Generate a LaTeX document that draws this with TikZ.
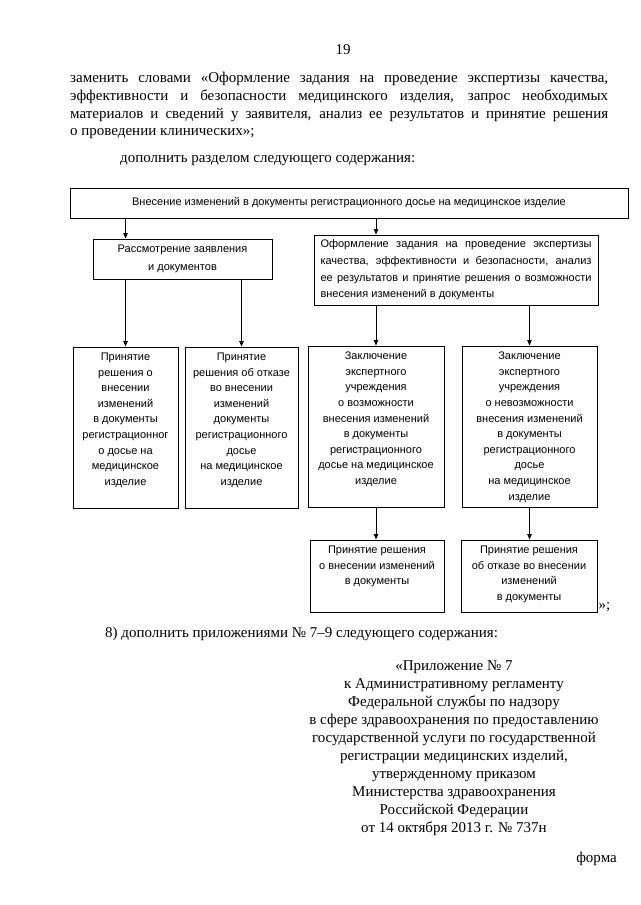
\documentclass[tikz,border=0pt]{standalone}
\usepackage{fontspec}
\setmainfont{Liberation Serif}
\newfontfamily\boxfont{Liberation Sans}
\usetikzlibrary{arrows.meta}

\newcommand{\celltext}[3]{\parbox[c][#2][t]{#1}{\vspace*{6pt}\centering #3}}

\tikzset{
  cell/.style={draw, line width=1pt, inner sep=0pt, font=\boxfont\fontsize{11}{15.6}\selectfont},
  arr/.style={-{Triangle[length=5.5pt,width=4.5pt]}, line width=0.8pt},
  body/.style={inner sep=0pt, font=\fontsize{15}{17.7}\selectfont},
}

\begin{document}
\begin{tikzpicture}[x=1pt,y=-1pt]
  \useasboundingbox (0,0) rectangle (640,905);

  \node[body] (page) at (343,50) {19};
  \node[body,anchor=north west,text width=538pt,align=justify] (para) at (70,72)
    {заменить словами «Оформление задания на проведение экспертизы качества,\linebreak
     эффективности и безопасности медицинского изделия, запрос необходимых\linebreak
     материалов и сведений у заявителя, анализ ее результатов и принятие решения\linebreak
     о проведении клинических»;};
  \node[body,anchor=base west] (add) at (120,162) {дополнить разделом следующего содержания:};

  % scheme
  \node[cell,minimum width=558pt,minimum height=30pt] (top) at (349,203)
    {Внесение изменений в документы регистрационного досье на медицинское изделие};
  \node[cell,minimum width=179pt,minimum height=40pt,align=center,font=\boxfont\fontsize{11}{18}\selectfont] (lm) at (182.5,259)
    {Рассмотрение заявления\\и документов};
  \node[cell,minimum width=284pt,minimum height=70pt,text width=271pt,align=justify,font=\boxfont\fontsize{11}{16.7}\selectfont] (rm) at (456,270)
    {Оформление задания на проведение экспертизы\linebreak
     качества, эффективности и безопасности, анализ\linebreak
     ее результатов и принятие решения о возможности\linebreak
     внесения изменений в документы};

  \node[cell] (b1) at (125.5,427.5) {\celltext{105pt}{161pt}{Принятие\\решения о\\внесении\\изменений\\в документы\\регистрационног\\о досье на\\медицинское\\изделие}};
  \node[cell] (b2) at (241.5,427.5) {\celltext{113pt}{161pt}{Принятие\\решения об отказе\\во внесении\\изменений\\документы\\регистрационного\\досье\\на медицинское\\изделие}};
  \node[cell] (b3) at (376,426.5) {\celltext{136pt}{161pt}{Заключение\\экспертного\\учреждения\\о возможности\\внесения изменений\\в документы\\регистрационного\\досье на медицинское\\изделие}};
  \node[cell] (b4) at (529.5,426.5) {\celltext{135pt}{161pt}{Заключение\\экспертного\\учреждения\\о невозможности\\внесения изменений\\в документы\\регистрационного\\досье\\на медицинское\\изделие}};

  \node[cell] (b5) at (377,576) {\celltext{134pt}{72pt}{Принятие решения\\о внесении изменений\\в документы}};
  \node[cell] (b6) at (529,576) {\celltext{136pt}{72pt}{Принятие решения\\об отказе во внесении\\изменений\\в документы}};
  \node[body,anchor=south west,inner sep=1pt] (close) at (b6.south east) {»;};

  \draw[arr] (top.south -| b1) -- (lm.north -| b1);
  \draw[arr] (top.south -| b3) -- (rm.north -| b3);
  \draw[arr] (lm.south -| b1) -- (b1.north);
  \draw[arr] (lm.south -| b2) -- (b2.north);
  \draw[arr] (rm.south -| b3) -- (b3.north);
  \draw[arr] (rm.south -| b4) -- (b4.north);
  \draw[arr] (b3.south) -- (b5.north -| b3);
  \draw[arr] (b4.south) -- (b6.north -| b4);

  \node[body,anchor=base west] (item) at (105,637) {8) дополнить приложениями № 7–9 следующего содержания:};
  \node[body,anchor=north,align=center,font=\fontsize{15}{18}\selectfont] (app) at (454,660)
    {«Приложение № 7\\к Административному регламенту\\Федеральной службы по надзору\\в сфере здравоохранения по предоставлению\\государственной услуги по государственной\\регистрации медицинских изделий,\\утвержденному приказом\\Министерства здравоохранения\\Российской Федерации\\от 14 октября 2013 г. № 737н};
  \node[body,anchor=base east] (form) at (617,862) {форма};
\end{tikzpicture}
\end{document}
